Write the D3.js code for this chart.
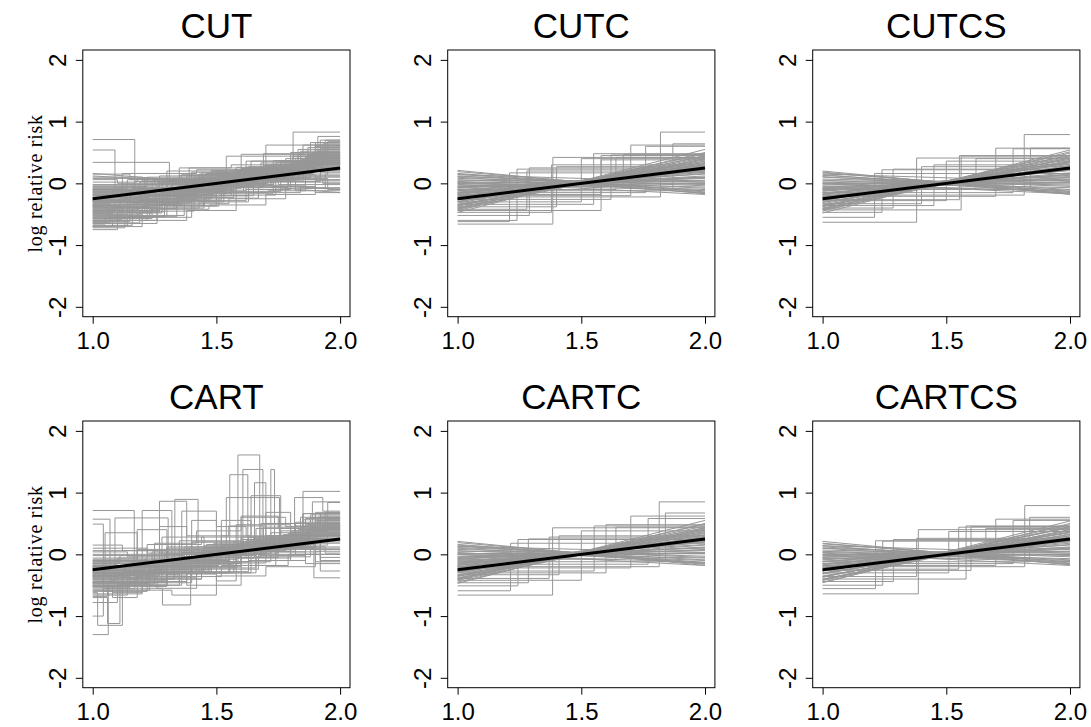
<!DOCTYPE html>
<html><head><meta charset="utf-8">
<script src="https://cdn.jsdelivr.net/npm/d3@7"></script>
<style>body{margin:0;background:#fff} svg{display:block}</style>
</head><body>
<svg id="chart" width="1091" height="727"></svg>
<script>
// ---------- data ----------
const panelTitles = ["CUT", "CUTC", "CUTCS", "CART", "CARTC", "CARTCS"];
const xTicks = [1.0, 1.5, 2.0];
const yTicks = [-2, -1, 0, 1, 2];
const yLabel = "log relative risk";
const truthLine = [[1, -0.25], [2, 0.25]];

// step functions: [value at x=1, break1, value1, break2, value2, ...]
const cutSteps = [
  [0.71, 1.17, -0.08, 1.52, 0.18, 1.86, 0.42],
  [0.54, 1.09, -0.18, 1.41, 0.06, 1.74, 0.31],
  [0.34, 1.31, 0.02, 1.62, 0.26, 1.9, 0.5],
  [-0.75, 1.1, -0.46, 1.29, -0.16, 1.56, 0.1, 1.8, 0.36],
  [-0.72, 1.13, -0.52, 1.37, -0.2, 1.63, 0.04, 1.85, 0.3],
  [-0.7, 1.2, -0.36, 1.45, 0.0, 1.71, 0.2, 1.92, 0.56],
  [-0.68, 1.16, -0.41, 1.33, -0.1, 1.57, 0.14, 1.82, 0.4],
  [-0.65, 1.26, -0.3, 1.5, -0.06, 1.79, 0.24, 1.95, 0.61],
  [-0.63, 1.07, -0.38, 1.28, -0.13, 1.53, 0.17, 1.87, 0.45],
  [-0.6, 1.22, -0.26, 1.42, 0.04, 1.68, 0.33, 1.9, 0.66],
  [-0.58, 1.12, -0.34, 1.36, -0.08, 1.6, 0.12, 1.84, 0.38],
  [-0.56, 1.18, -0.28, 1.47, -0.02, 1.73, 0.27, 1.93, 0.5],
  [-0.53, 1.3, -0.2, 1.56, 0.08, 1.81, 0.83],
  [-0.5, 1.14, -0.3, 1.4, -0.05, 1.66, 0.2, 1.91, 0.76],
  [-0.48, 1.24, -0.22, 1.5, 0.02, 1.7, 0.62],
  [-0.46, 1.09, -0.31, 1.35, -0.11, 1.58, 0.19, 1.86, 0.43],
  [-0.44, 1.27, -0.15, 1.52, 0.1, 1.76, 0.35, 1.95, 0.68],
  [-0.42, 1.19, -0.25, 1.44, 0.0, 1.69, 0.22, 1.89, 0.48],
  [-0.6, 1.38, -0.44, 1.58, 0.06, 1.83, 0.28],
  [-0.4, 1.15, -0.22, 1.39, -0.03, 1.64, 0.16, 1.88, 0.36],
  [-0.38, 1.23, -0.18, 1.48, 0.05, 1.72, 0.3, 1.94, 0.58],
  [-0.36, 1.11, -0.24, 1.34, -0.06, 1.61, 0.14, 1.85, 0.34],
  [-0.34, 1.29, -0.12, 1.54, 0.11, 1.78, 0.4, 1.93, 0.64],
  [-0.32, 1.17, -0.16, 1.43, 0.03, 1.67, 0.21, 1.9, 0.44],
  [-0.3, 1.21, -0.1, 1.46, 0.09, 1.75, 0.26],
  [-0.28, 1.13, -0.14, 1.37, 0.02, 1.62, 0.2, 1.87, 0.47],
  [-0.26, 1.25, -0.08, 1.51, 0.12, 1.8, 0.32],
  [-0.24, 1.08, -0.12, 1.32, 0.04, 1.59, 0.18, 1.84, 0.52],
  [-0.22, 1.2, -0.06, 1.45, 0.14, 1.7, 0.3, 1.92, 0.42],
  [-0.2, 1.16, -0.04, 1.41, 0.1, 1.65, 0.24, 1.89, 0.38],
  [-0.18, 1.28, 0.0, 1.55, 0.16, 1.77, 0.28],
  [-0.16, 1.12, -0.02, 1.38, 0.12, 1.63, 0.27, 1.86, 0.4],
  [-0.14, 1.24, 0.04, 1.49, 0.2, 1.74, 0.34],
  [-0.12, 1.19, 0.02, 1.43, 0.15, 1.68, 0.1, 1.88, 0.22],
  [-0.1, 1.3, 0.05, 1.57, 0.22, 1.81, 0.46],
  [-0.08, 1.14, 0.06, 1.4, 0.0, 1.7, 0.14, 1.9, 0.05],
  [-0.05, 1.22, 0.1, 1.5, 0.18, 1.8, 0.08, 1.95, -0.1],
  [-0.02, 1.27, 0.12, 1.6, 0.24, 1.85, 0.12],
  [0.02, 1.18, 0.08, 1.46, 0.16, 1.72, -0.05, 1.9, -0.15],
  [0.06, 1.1, 0.0, 1.35, 0.13, 1.66, 0.04, 1.82, -0.12],
  [0.1, 1.2, 0.04, 1.44, 0.1, 1.75, -0.02],
  [0.15, 1.15, 0.06, 1.48, 0.2, 1.78, 0.06, 1.93, 0.0],
  [-0.35, 1.33, -0.27, 1.52, -0.15, 1.71, -0.12, 1.86, 0.02],
  [-0.5, 1.2, -0.4, 1.43, -0.3, 1.63, -0.15, 1.84, -0.07],
  [-0.66, 1.05, -0.55, 1.23, -0.42, 1.47, -0.35, 1.7, -0.18, 1.9, 0.1],
  [-0.45, 1.17, -0.48, 1.28, -0.33, 1.55, -0.25, 1.78, -0.08, 1.94, 0.15],
  [-0.28, 1.26, -0.35, 1.45, -0.2, 1.65, 0.06, 1.84, 0.24],
  [-0.38, 1.06, -0.44, 1.22, -0.2, 1.39, 0.25, 1.64, 0.36, 1.87, 0.58],
  [-0.3, 1.35, 0.25, 1.56, 0.3, 1.8, 0.5],
  [-0.55, 1.4, 0.18, 1.6, 0.47, 1.85, 0.62],
  [-0.2, 1.3, 0.2, 1.54, 0.44, 1.88, 0.66],
  [-0.1, 1.12, 0.16, 1.42, 0.22, 1.69, 0.48, 1.92, 0.7],
  [-0.62, 1.15, -0.18, 1.36, 0.14, 1.62, 0.36, 1.83, 0.55],
  [-0.7, 1.08, -0.6, 1.26, -0.36, 1.5, -0.16, 1.73, 0.1, 1.92, 0.18],
  [-0.52, 1.16, -0.33, 1.39, -0.14, 1.61, 0.08, 1.83, 0.3],
  [-0.47, 1.21, -0.27, 1.46, -0.04, 1.72, 0.19, 1.91, 0.41],
  [-0.43, 1.11, -0.29, 1.33, -0.09, 1.56, 0.13, 1.79, 0.37, 1.94, 0.55],
  [-0.39, 1.25, -0.19, 1.5, 0.01, 1.74, 0.23],
  [-0.35, 1.18, -0.21, 1.42, -0.01, 1.66, 0.17, 1.88, 0.43],
  [-0.31, 1.28, -0.13, 1.53, 0.07, 1.77, 0.29, 1.93, 0.49],
  [-0.27, 1.14, -0.17, 1.38, 0.0, 1.63, 0.19, 1.86, 0.36],
  [-0.23, 1.23, -0.09, 1.47, 0.08, 1.71, 0.25, 1.9, 0.54],
  [-0.19, 1.1, -0.07, 1.36, 0.06, 1.6, 0.23, 1.84, 0.39],
  [-0.15, 1.26, 0.01, 1.52, 0.14, 1.76, 0.31],
  [-0.11, 1.17, 0.03, 1.44, 0.17, 1.69, 0.29, 1.91, 0.52],
  [-0.07, 1.21, 0.07, 1.48, 0.21, 1.73, 0.37],
  [-0.57, 1.24, -0.4, 1.45, -0.24, 1.67, -0.03, 1.86, 0.2],
  [-0.64, 1.19, -0.45, 1.41, -0.28, 1.62, -0.1, 1.8, 0.12],
  [-0.54, 1.29, -0.37, 1.51, -0.19, 1.74, 0.03, 1.92, 0.26],
  [-0.41, 1.34, -0.23, 1.57, -0.07, 1.79, 0.15, 1.95, 0.33],
  [-0.33, 1.07, -0.26, 1.3, -0.17, 1.54, 0.04, 1.78, 0.21],
  [-0.25, 1.36, -0.05, 1.59, 0.13, 1.82, 0.35],
  [-0.17, 1.15, -0.11, 1.4, 0.05, 1.64, 0.18, 1.87, 0.3],
  [-0.09, 1.32, 0.08, 1.58, 0.26, 1.84, 0.44],
  [-0.45, 1.12, -0.35, 1.31, -0.18, 1.49, 0.0, 1.7, 0.27, 1.9, 0.6],
  [-0.37, 1.22, -0.3, 1.41, -0.11, 1.62, 0.1, 1.81, 0.43, 1.94, 0.7],
  [-0.61, 1.11, -0.47, 1.27, -0.25, 1.48, -0.07, 1.69, 0.16, 1.89, 0.5],
  [-0.69, 1.14, -0.54, 1.34, -0.3, 1.53, -0.13, 1.76, 0.09, 1.88, 0.32],
  [-0.29, 1.19, -0.2, 1.37, -0.03, 1.59, 0.21, 1.83, 0.47],
  [-0.13, 1.27, -0.01, 1.5, 0.12, 1.71, 0.28, 1.9, 0.62],
  [-0.49, 1.08, -0.39, 1.26, -0.21, 1.44, -0.04, 1.65, 0.19, 1.87, 0.35],
  [0.08, 1.25, -0.02, 1.47, 0.09, 1.7, 0.02, 1.86, -0.08],
  [-0.03, 1.16, -0.08, 1.39, 0.04, 1.62, 0.16, 1.85, 0.06]
];
// straight lines: [value at x=1, value at x=2]
const cutLines = [[0.16, -0.15], [0.12, -0.1]];

const cutcSteps = [
  [-0.66, 1.385, 0.42], [-0.62, 1.21, 0.17], [-0.6, 1.24, 0.23], [-0.52, 1.29, 0.25],
  [-0.47, 1.38, 0.3], [-0.42, 1.28, 0.2], [-0.38, 1.4, 0.27], [-0.34, 1.55, 0.48],
  [-0.3, 1.5, 0.4], [-0.44, 1.58, 0.45], [-0.26, 1.62, 0.46], [-0.22, 1.82, 0.83],
  [-0.2, 1.7, 0.62], [-0.15, 1.76, 0.6], [-0.12, 1.87, 0.64], [-0.05, 1.67, 0.47],
  [-0.1, 1.64, 0.42], [-0.18, 1.58, 0.38]
];
const cutcLines = [
  [0.21, -0.17], [0.16, -0.12], [0.12, -0.08], [0.1, -0.15], [0.08, -0.02], [0.05, 0.02],
  [0.03, -0.06], [0.0, 0.05], [-0.02, 0.1], [-0.05, 0.08], [-0.08, 0.15], [-0.1, 0.12],
  [-0.12, 0.2], [-0.15, 0.18], [-0.17, 0.25], [-0.2, 0.22], [-0.22, 0.3], [-0.25, 0.28],
  [-0.27, 0.34], [-0.3, 0.32], [-0.32, 0.38], [-0.35, 0.36], [-0.37, 0.42], [-0.4, 0.45],
  [-0.42, 0.4], [-0.44, 0.5], [-0.47, 0.55], [0.02, -0.18], [-0.06, 0.0], [0.14, 0.02],
  [0.19, -0.14], [0.15, -0.16], [0.11, -0.04], [0.06, -0.1], [0.01, 0.0], [-0.04, 0.04],
  [-0.07, 0.1], [-0.11, 0.09], [-0.14, 0.16], [-0.18, 0.2], [-0.21, 0.26], [-0.24, 0.24],
  [-0.29, 0.3], [-0.34, 0.33], [-0.39, 0.4], [-0.41, 0.48], [-0.36, 0.44], [-0.26, 0.36],
  [-0.16, 0.22], [0.0, -0.12]
];

const cutcsSteps = [
  [-0.63, 1.38, 0.41], [-0.55, 1.21, 0.16], [-0.47, 1.24, 0.22], [-0.4, 1.285, 0.23],
  [-0.33, 1.4, 0.27], [-0.265, 1.553, 0.45], [-0.21, 1.7, 0.57], [-0.19, 1.815, 0.79],
  [-0.1, 1.84, 0.57], [-0.36, 1.45, 0.3], [-0.43, 1.56, 0.44], [-0.15, 1.77, 0.56],
  [-0.08, 1.62, 0.4], [-0.28, 1.5, 0.36]
];
const cutcsLines = [
  [0.2, -0.18], [0.17, -0.13], [0.13, -0.1], [0.11, -0.16], [0.07, -0.03], [0.04, 0.01],
  [0.02, -0.07], [-0.01, 0.06], [-0.03, 0.11], [-0.06, 0.07], [-0.09, 0.14], [-0.11, 0.13],
  [-0.13, 0.21], [-0.16, 0.17], [-0.18, 0.26], [-0.21, 0.23], [-0.23, 0.31], [-0.26, 0.27],
  [-0.28, 0.35], [-0.31, 0.33], [-0.33, 0.39], [-0.36, 0.37], [-0.38, 0.43], [-0.41, 0.46],
  [-0.43, 0.41], [-0.45, 0.51], [-0.48, 0.54], [0.01, -0.17], [-0.07, 0.01], [0.15, 0.03],
  [0.18, -0.15], [0.14, -0.17], [0.1, -0.05], [0.05, -0.11], [0.0, -0.01], [-0.05, 0.05],
  [-0.08, 0.09], [-0.12, 0.1], [-0.15, 0.15], [-0.19, 0.21], [-0.22, 0.25], [-0.25, 0.25],
  [-0.3, 0.29], [-0.35, 0.34], [-0.4, 0.41], [-0.42, 0.49], [-0.37, 0.45], [-0.27, 0.35],
  [-0.17, 0.23], [-0.01, -0.13]
];

const cartSteps = [
  [0.71, 1.168, -0.3, 1.36, -0.05, 1.62, 0.2, 1.88, 0.42],
  [0.57, 1.07, -0.42, 1.3, -0.12, 1.55, 0.1, 1.8, 0.35],
  [0.49, 1.043, -0.6, 1.22, -0.25, 1.47, 0.05, 1.73, 0.3, 1.94, 0.68],
  [-0.2, 1.09, 0.59, 1.305, -0.15, 1.5, 0.08, 1.76, 0.25],
  [-0.45, 1.2, 0.71, 1.32, -0.2, 1.58, 0.14, 1.86, 0.46],
  [-0.35, 1.27, 0.86, 1.38, -0.5, 1.6, 0.12, 1.84, 0.32],
  [-0.25, 1.332, 0.89, 1.426, -0.02, 1.66, 0.22, 1.9, 0.55],
  [-0.3, 1.554, 1.29, 1.627, 0.05, 1.8, 0.3],
  [-0.15, 1.587, 1.61, 1.675, 0.18, 1.87, 0.4],
  [-0.1, 1.45, 0.1, 1.607, 1.375, 1.688, 0.25, 1.92, 0.62],
  [-0.2, 1.5, 0.02, 1.72, 1.375, 1.735, 0.2, 1.9, 0.5],
  [-0.28, 1.4, -0.06, 1.654, 1.16, 1.7, 0.16, 1.88, 0.44],
  [-0.32, 1.35, -0.1, 1.54, 0.92, 1.755, 0.12, 1.86, 0.36],
  [-0.4, 1.3, -0.15, 1.6, 0.28, 1.85, 1.02],
  [-0.22, 1.45, 0.0, 1.7, 0.3, 1.816, 0.92, 1.93, 0.7],
  [-0.18, 1.5, 0.05, 1.72, 0.35, 1.888, 0.85],
  [-0.3, 1.55, -0.05, 1.75, 0.22, 1.894, -0.38],
  [-0.14, 1.48, 0.06, 1.78, 0.26, 1.92, -0.27],
  [-0.5, 1.3, -0.3, 1.5, -0.43, 1.58, 0.08, 1.8, 0.3],
  [-1.3, 1.063, -0.45, 1.28, -0.15, 1.55, 0.12, 1.83, 0.4],
  [-0.62, 1.02, -1.15, 1.12, -0.38, 1.42, 0.0, 1.7, 0.26, 1.95, 0.84],
  [-1.0, 1.043, -0.55, 1.282, -0.82, 1.396, -0.12, 1.64, 0.16, 1.9, 0.36],
  [-0.7, 1.06, -1.12, 1.11, -0.5, 1.35, -0.2, 1.6, 0.1, 1.85, 0.56],
  [-0.78, 1.1, -0.48, 1.25, -0.25, 1.48, 0.0, 1.74, 0.24],
  [-0.66, 1.14, -0.4, 1.33, -0.16, 1.57, 0.1, 1.82, 0.46],
  [-0.6, 1.08, -0.7, 1.18, -0.3, 1.43, -0.05, 1.68, 0.18, 1.91, 0.6],
  [-0.56, 1.17, -0.36, 1.4, -0.12, 1.63, 0.14, 1.87, 0.38],
  [-0.52, 1.12, -0.28, 1.37, -0.04, 1.6, 0.2, 1.85, 0.66],
  [-0.48, 1.23, -0.22, 1.46, 0.04, 1.7, 0.3],
  [-0.44, 1.1, -0.32, 1.34, -0.08, 1.58, 0.18, 1.84, 0.44],
  [-0.4, 1.19, -0.18, 1.44, 0.06, 1.67, 0.28, 1.9, 0.52],
  [-0.36, 1.15, -0.2, 1.39, 0.0, 1.62, 0.22, 1.87, 0.48],
  [-0.33, 1.26, -0.12, 1.5, 0.1, 1.76, 0.38],
  [-0.3, 1.13, -0.16, 1.36, 0.03, 1.61, 0.24, 1.86, 0.58],
  [-0.26, 1.21, -0.08, 1.47, 0.12, 1.73, 0.3, 1.93, 0.46],
  [-0.22, 1.16, -0.1, 1.41, 0.08, 1.65, 0.26, 1.89, 0.4],
  [-0.18, 1.29, 0.0, 1.53, 0.16, 1.79, 0.34],
  [-0.14, 1.11, -0.02, 1.37, 0.12, 1.63, 0.28, 1.88, 0.18],
  [-0.1, 1.24, 0.04, 1.49, 0.18, 1.75, 0.1, 1.92, -0.05],
  [-0.06, 1.18, 0.08, 1.43, 0.02, 1.69, 0.12, 1.9, -0.12],
  [-0.02, 1.3, 0.1, 1.57, 0.2, 1.82, 0.0],
  [0.04, 1.14, -0.04, 1.38, 0.1, 1.66, 0.04, 1.86, -0.15],
  [0.1, 1.22, 0.02, 1.46, 0.16, 1.72, 0.08],
  [0.15, 1.12, 0.06, 1.4, 0.2, 1.78, 0.12, 1.94, 0.02],
  [-0.46, 1.26, -0.55, 1.42, -0.3, 1.64, -0.1, 1.86, 0.1],
  [-0.58, 1.32, -0.66, 1.5, -0.35, 1.7, -0.2, 1.9, 0.05],
  [-0.38, 1.2, -0.44, 1.38, -0.3, 1.57, -0.18, 1.79, 0.0],
  [-0.5, 1.36, 0.7, 1.5, 0.45, 1.62, 0.3, 1.84, 0.6],
  [-0.2, 1.27, 0.45, 1.38, 0.3, 1.55, 0.46, 1.7, 0.5, 1.9, 0.68],
  [0.0, 1.35, 0.22, 1.6, 0.62, 1.75, 0.42, 1.92, 0.66],
  [-0.3, 1.4, 0.2, 1.58, 0.48, 1.8, 0.36, 1.88, 0.6],
  [-0.12, 1.3, 0.12, 1.52, 0.3, 1.64, 0.95, 1.76, 0.3, 1.95, 0.5],
  [-0.36, 1.05, 0.35, 1.18, -0.1, 1.45, 0.14, 1.69, 0.44],
  [-0.26, 1.28, 0.28, 1.45, 0.1, 1.66, 0.42, 1.85, 0.66],
  [-0.54, 1.15, -0.35, 1.38, -0.14, 1.6, 0.08, 1.82, 0.3],
  [-0.47, 1.22, -0.27, 1.45, -0.05, 1.7, 0.18, 1.9, 0.42],
  [-0.42, 1.09, -0.3, 1.32, -0.1, 1.55, 0.13, 1.8, 0.38, 1.94, 0.56],
  [-0.38, 1.26, -0.18, 1.51, 0.02, 1.75, 0.24],
  [-0.34, 1.17, -0.22, 1.42, -0.02, 1.66, 0.18, 1.88, 0.44],
  [-0.3, 1.29, -0.12, 1.54, 0.08, 1.78, 0.3, 1.93, 0.48],
  [-0.26, 1.13, -0.18, 1.37, 0.0, 1.62, 0.2, 1.86, 0.36],
  [-0.22, 1.24, -0.08, 1.48, 0.09, 1.72, 0.26, 1.91, 0.54],
  [-0.16, 1.1, -0.06, 1.35, 0.06, 1.6, 0.24, 1.84, 0.4],
  [-0.12, 1.27, 0.02, 1.52, 0.15, 1.77, 0.32],
  [-0.58, 1.23, -0.4, 1.44, -0.24, 1.67, -0.02, 1.86, 0.2],
  [-0.64, 1.2, -0.46, 1.4, -0.28, 1.63, -0.1, 1.8, 0.12],
  [-0.5, 1.3, -0.36, 1.52, -0.18, 1.74, 0.04, 1.92, 0.26],
  [-0.44, 1.35, -0.22, 1.58, -0.06, 1.8, 0.15, 1.95, 0.33],
  [-0.68, 1.06, -0.52, 1.3, -0.32, 1.5, -0.12, 1.72, 0.1, 1.9, 0.28],
  [-0.46, 1.18, 0.4, 1.3, -0.08, 1.52, 0.55, 1.64, 0.2, 1.86, 0.48],
  [-0.24, 1.4, 0.55, 1.5, 0.12, 1.7, 0.68, 1.8, 0.32],
  [-0.34, 1.25, 0.18, 1.42, 0.38, 1.6, 0.6, 1.78, 0.45, 1.9, 0.58],
  [-0.4, 1.33, 0.0, 1.47, -0.3, 1.66, 0.05, 1.82, 0.52],
  [-0.08, 1.22, 0.16, 1.44, 0.28, 1.68, 0.5, 1.88, 0.64],
  [0.06, 1.3, -0.08, 1.54, 0.08, 1.74, 0.0, 1.92, -0.1],
  [-0.2, 1.16, -0.12, 1.39, 0.04, 1.61, 0.16, 1.84, 0.08],
  [-0.52, 1.08, -0.62, 1.2, -0.4, 1.44, -0.22, 1.66, -0.04, 1.88, 0.22],
  [-0.35, 1.12, -0.46, 1.3, -0.28, 1.48, -0.14, 1.7, 0.12, 1.9, 0.3]
];
const cartLines = [];

const cartcSteps = [
  [-0.66, 1.384, 0.43], [-0.59, 1.214, 0.18], [-0.51, 1.244, 0.24], [-0.46, 1.286, 0.25],
  [-0.39, 1.37, 0.28], [-0.33, 1.41, 0.3], [-0.27, 1.552, 0.46], [-0.22, 1.7, 0.62],
  [-0.2, 1.815, 0.85], [-0.12, 1.84, 0.67], [-0.16, 1.77, 0.58], [-0.42, 1.5, 0.38],
  [-0.08, 1.64, 0.44], [-0.3, 1.6, 0.48]
];
const cartcLines = [
  [0.21, -0.18], [0.16, -0.13], [0.13, -0.09], [0.1, -0.14], [0.08, -0.03], [0.05, 0.01],
  [0.02, -0.06], [0.0, 0.06], [-0.03, 0.1], [-0.05, 0.07], [-0.08, 0.16], [-0.1, 0.12],
  [-0.13, 0.2], [-0.15, 0.19], [-0.18, 0.25], [-0.2, 0.23], [-0.22, 0.31], [-0.25, 0.28],
  [-0.28, 0.35], [-0.3, 0.32], [-0.33, 0.39], [-0.35, 0.37], [-0.38, 0.43], [-0.4, 0.46],
  [-0.42, 0.41], [-0.45, 0.5], [-0.47, 0.55], [0.03, -0.18], [-0.06, 0.02], [0.13, 0.03],
  [0.19, -0.15], [0.15, -0.16], [0.11, -0.05], [0.06, -0.1], [0.01, 0.01], [-0.04, 0.03],
  [-0.07, 0.11], [-0.11, 0.08], [-0.14, 0.15], [-0.18, 0.21], [-0.21, 0.27], [-0.24, 0.23],
  [-0.29, 0.29], [-0.34, 0.34], [-0.39, 0.41], [-0.41, 0.49], [-0.36, 0.43], [-0.26, 0.37],
  [-0.16, 0.21], [0.0, -0.13]
];

const cartcsSteps = [
  [-0.64, 1.387, 0.4], [-0.555, 1.214, 0.22], [-0.5, 1.243, 0.215], [-0.44, 1.286, 0.24],
  [-0.36, 1.38, 0.26], [-0.3, 1.51, 0.37], [-0.4, 1.58, 0.46], [-0.24, 1.55, 0.44],
  [-0.2, 1.817, 0.79], [-0.18, 1.7, 0.57], [-0.12, 1.837, 0.6], [-0.15, 1.77, 0.55],
  [-0.06, 1.66, 0.42], [-0.26, 1.6, 0.45]
];
const cartcsLines = [
  [0.21, -0.17], [0.17, -0.12], [0.12, -0.09], [0.1, -0.15], [0.07, -0.02], [0.04, 0.02],
  [0.03, -0.07], [-0.01, 0.05], [-0.02, 0.11], [-0.05, 0.08], [-0.09, 0.15], [-0.11, 0.12],
  [-0.12, 0.21], [-0.16, 0.18], [-0.17, 0.26], [-0.21, 0.22], [-0.22, 0.3], [-0.26, 0.28],
  [-0.27, 0.35], [-0.31, 0.32], [-0.32, 0.38], [-0.36, 0.36], [-0.37, 0.43], [-0.41, 0.45],
  [-0.42, 0.4], [-0.45, 0.5], [-0.46, 0.54], [0.02, -0.18], [-0.07, 0.0], [0.14, 0.02],
  [0.18, -0.14], [0.14, -0.16], [0.1, -0.04], [0.05, -0.1], [0.0, 0.0], [-0.04, 0.05],
  [-0.08, 0.1], [-0.12, 0.09], [-0.15, 0.16], [-0.19, 0.2], [-0.22, 0.26], [-0.25, 0.24],
  [-0.3, 0.3], [-0.35, 0.33], [-0.4, 0.4], [-0.42, 0.48], [-0.37, 0.44], [-0.27, 0.36],
  [-0.17, 0.22], [-0.01, -0.12]
];

const panelSteps = [cutSteps, cutcSteps, cutcsSteps, cartSteps, cartcSteps, cartcsSteps];
const panelLines = [cutLines, cutcLines, cutcsLines, cartLines, cartcLines, cartcsLines];

// ---------- layout ----------
const colLeft = [82.8, 447.7, 812.7];
const rowTop = [50, 421];
const PW = 267.2, PH = 266.7;
const grey = "#979797";

const svg = d3.select("#chart");
const stepLine = d3.line().curve(d3.curveStepAfter);
const straight = d3.line();

panelTitles.forEach((title, i) => {
  const col = i % 3, row = Math.floor(i / 3);
  const L = colLeft[col], T = rowTop[row];
  const x = d3.scaleLinear().domain([0.96, 2.04]).range([L, L + PW]);
  const y = d3.scaleLinear().domain([-2.16, 2.16]).range([T + PH, T]);
  const g = svg.append("g");

  // grey fitted curves
  panelLines[i].forEach(l => {
    g.append("path")
      .attr("d", straight([[x(1), y(l[0])], [x(2), y(l[1])]]))
      .attr("fill", "none").attr("stroke", grey).attr("stroke-width", 1);
  });
  panelSteps[i].forEach(f => {
    const pts = [[1, f[0]]];
    for (let k = 1; k < f.length; k += 2) pts.push([f[k], f[k + 1]]);
    pts.push([2, f[f.length - 1]]);
    g.append("path")
      .attr("d", stepLine(pts.map(p => [x(p[0]), y(p[1])])))
      .attr("fill", "none").attr("stroke", grey).attr("stroke-width", 1);
  });

  // true function
  g.append("path")
    .attr("d", straight(truthLine.map(p => [x(p[0]), y(p[1])])))
    .attr("fill", "none").attr("stroke", "#000").attr("stroke-width", 3);

  // box
  g.append("rect").attr("x", L).attr("y", T).attr("width", PW).attr("height", PH)
    .attr("fill", "none").attr("stroke", "#000").attr("stroke-width", 1);

  // x axis
  const xa = g.append("g").attr("transform", `translate(0,${T + PH})`)
    .call(d3.axisBottom(x).tickValues(xTicks).tickFormat(d3.format(".1f")).tickSize(7).tickSizeOuter(0));
  xa.select(".domain").remove();
  xa.selectAll("line").attr("stroke", "#000");
  xa.selectAll("text").attr("y", 32).attr("dy", null)
    .attr("font-family", "Liberation Sans, Arial, sans-serif").attr("font-size", 24).attr("fill", "#000");

  // y axis
  const ya = g.append("g").attr("transform", `translate(${L},0)`)
    .call(d3.axisLeft(y).tickValues(yTicks).tickFormat(d => String(d)).tickSize(7).tickSizeOuter(0));
  ya.select(".domain").remove();
  ya.selectAll("line").attr("stroke", "#000");
  ya.selectAll("text").attr("x", null).attr("dy", null)
    .attr("transform", "translate(-17,0) rotate(-90)").attr("text-anchor", "middle")
    .attr("font-family", "Liberation Sans, Arial, sans-serif").attr("font-size", 24).attr("fill", "#000");

  // title
  g.append("text").attr("x", L + PW / 2).attr("y", T - 12).attr("text-anchor", "middle")
    .attr("font-family", "Liberation Sans, Arial, sans-serif").attr("font-size", 35).attr("fill", "#000")
    .text(title);

  // y label on left column
  if (col === 0) {
    const cy = T + PH / 2;
    g.append("text").attr("transform", `translate(42,${cy}) rotate(-90)`).attr("text-anchor", "middle")
      .attr("font-family", "Liberation Serif, Times New Roman, serif").attr("font-size", 20)
      .attr("letter-spacing", 0.75).attr("fill", "#000")
      .text(yLabel);
  }
});
</script>
</body></html>
